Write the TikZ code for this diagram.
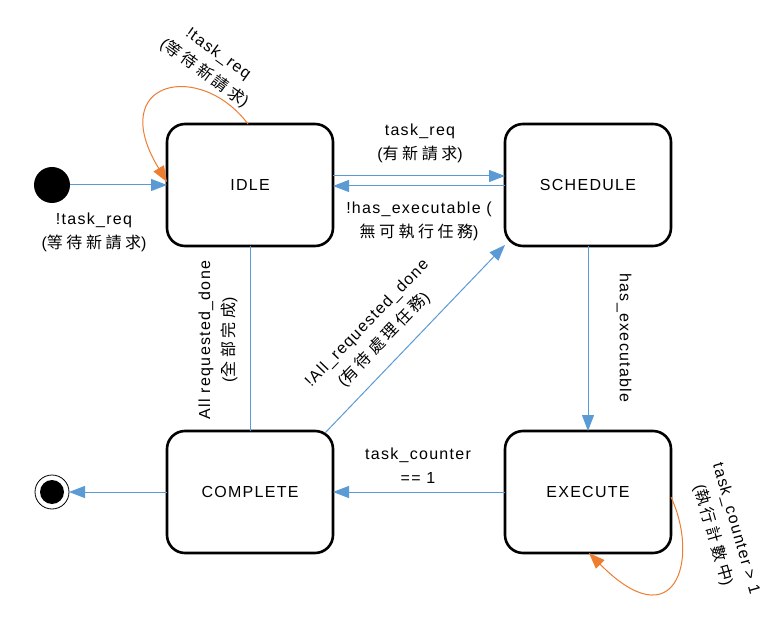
\documentclass[tikz,border=0pt]{standalone}
\usepackage{fontspec}
\setmainfont{Liberation Sans}[LetterSpace=8]
\newfontfamily\cjkf{Noto Sans CJK TC}[LetterSpace=22]
\newcommand\zh[1]{{\cjkf #1}}
\usetikzlibrary{arrows.meta}
\definecolor{flowblue}{HTML}{5B9BD5}
\definecolor{looporange}{HTML}{ED7D31}
\tikzset{
  statebox/.style={draw, line width=2.6pt, rounded corners=18pt, minimum width=166pt,
    minimum height=122pt, inner sep=0pt, outer sep=0pt, font=\fontsize{16}{20}\selectfont},
  flow/.style={draw=flowblue, line width=1pt, -{Triangle[length=16pt,width=12pt]}},
  plainflow/.style={draw=flowblue, line width=1pt},
  loopflow/.style={draw=looporange, line width=1pt, -{Triangle[length=16pt,width=12pt]}},
  lbl/.style={align=center, inner sep=0pt, font=\fontsize{16}{24}\selectfont}
}
\begin{document}
\begin{tikzpicture}[x=1pt,y=-1pt]
\useasboundingbox[fill=white] (0,0) rectangle (779,617);
\node[statebox] (idle) at (250,185) {IDLE};
\node[statebox] (sched) at (588,185) {SCHEDULE};
\node[statebox] (comp) at (250,492) {COMPLETE};
\node[statebox] (exec) at (588,492) {EXECUTE};
\node[circle, fill=black, minimum size=36pt, inner sep=0pt, outer sep=0pt] (init) at (52,185) {};
\node[circle, draw=black, line width=0.8pt, minimum size=34pt, inner sep=0pt, outer sep=0pt] (final) at (52,492) {};
\node[circle, fill=black, minimum size=24pt, inner sep=0pt] (finaldot) at (final.center) {};

% connectors
\draw[flow] (init) -- (idle.west);
\draw[flow] ([yshift=9pt]idle.east) -- ([yshift=9pt]sched.west);
\draw[flow] ([yshift=-1pt]sched.west) -- ([yshift=-1pt]idle.east);
\draw[plainflow] (idle.south) -- (comp.north);
\draw[flow] ([xshift=-8pt,yshift=-2pt]comp.north east) -- ([yshift=1pt]sched.south west);
\draw[flow] (sched.south) -- (exec.north);
\draw[flow] (exec.west) -- (comp.east);
\draw[flow] (comp.west) -- (final);
\draw[loopflow] ([xshift=-2pt]idle.north) .. controls (200,60) and (105,80) .. ([yshift=3pt]idle.west);
\draw[loopflow] ([yshift=-5pt]exec.east) .. controls (700,560) and (675,640) .. ([xshift=1pt]exec.south);

% labels
\node[lbl] (l_init) at (94,232) {!task\_req\\(\zh{等待新請求})};
\node[lbl, rotate=-36] (l_idleloop) at (211,64) {!task\_req\\(\zh{等待新請求})};
\node[lbl] (l_req) at (420,143) {task\_req\\(\zh{有新請求})};
\node[lbl] (l_noexec) at (419,221) {!has\_executable (\\\zh{無可執行任務})};
\node[lbl, rotate=90] (l_done) at (218,340) {All requested\_done\\(\zh{全部完成})};
\node[lbl, rotate=46] (l_notdone) at (376,332) {!All\_requested\_done\\(\zh{有待處理任務})};
\node[lbl, rotate=-90] (l_hasexec) at (624,338) {has\_executable};
\node[lbl] (l_cnt1) at (418,466) {task\_counter\\== 1};
\node[lbl, rotate=-74] (l_cntloop) at (724,532) {task\_counter > 1\\(\zh{執行計數中})};
\end{tikzpicture}
\end{document}
